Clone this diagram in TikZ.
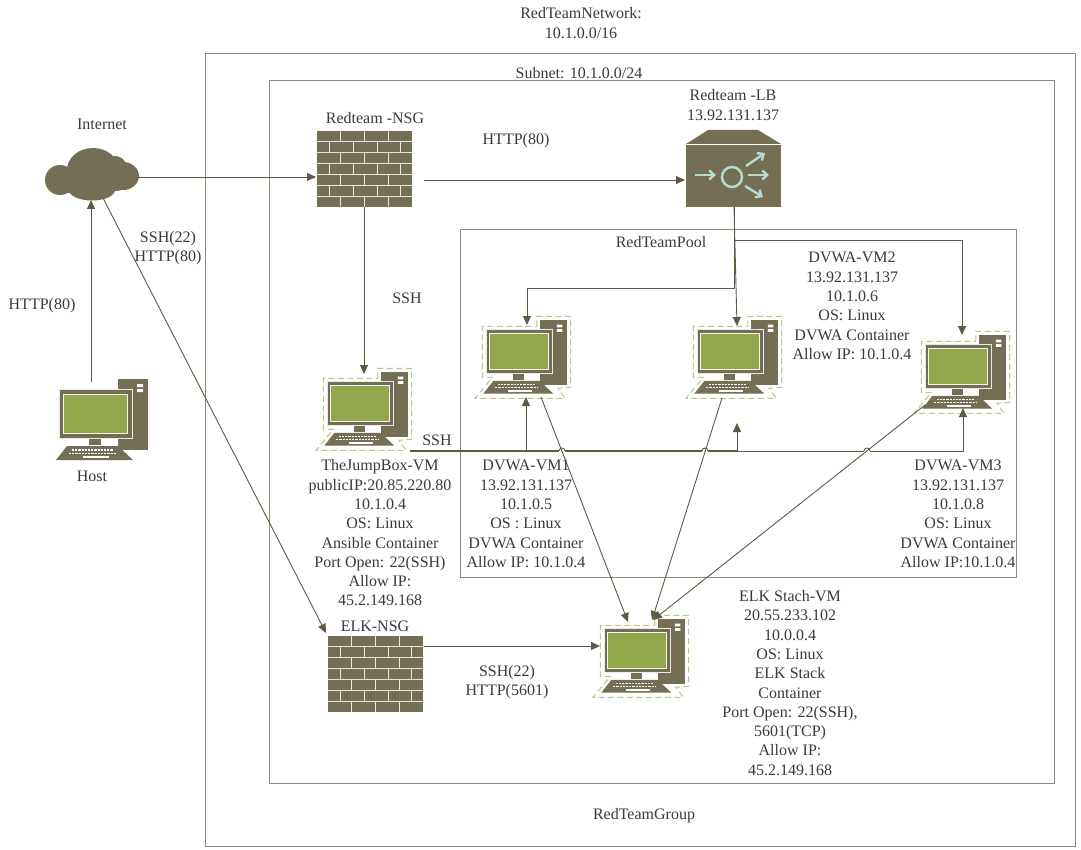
\documentclass[tikz,border=0pt]{standalone}
\usepackage{fontspec}
\setmainfont{Liberation Serif}
\usetikzlibrary{arrows.meta}
\definecolor{icon}{HTML}{746E55}
\definecolor{scr}{HTML}{93A84C}
\definecolor{dashg}{HTML}{B5C98A}
\definecolor{boxc}{HTML}{8E8A78}
\definecolor{linec}{HTML}{5F5A45}
\definecolor{txt}{HTML}{3A3A3A}
\definecolor{teal}{HTML}{B9DAD0}
\tikzset{
  lab/.style={font=\fontsize{16}{19.3}\selectfont,text=txt,align=center,inner sep=0pt},
  region/.style={draw=boxc,line width=0.9pt},
  conn/.style={draw=linec,line width=0.9pt,-{Triangle[length=9pt,width=8pt]}},
  plainconn/.style={draw=linec,line width=0.9pt},
  anchorbox/.style={inner sep=0pt,outer sep=0pt,anchor=north west},
  pics/computer/.style={code={
    \fill[icon] (59,0) rectangle (89,71);
    \fill[white] (78,5) rectangle (84,8) (78,10) rectangle (84,13);
    \fill[icon,draw=white!85!icon,line width=.7pt] (0,10) rectangle (73,59);
    \fill[scr,draw=white!90!scr,line width=.7pt] (4,15) rectangle (68,54);
    \fill[icon] (30,59.5) rectangle (42,66);
    \fill[icon] (8,67) -- (59,67) -- (74,81) -- (-3,81) -- cycle;
    \draw[white,line width=1.2pt,dash pattern=on 2.2pt off 1pt] (13,71) -- (54,71);
    \draw[white,line width=1.2pt,dash pattern=on 2.2pt off 1pt] (10,74.5) -- (57,74.5);
    \draw[white,line width=1.2pt] (24,78) -- (50,78);
  }},
  pics/dashoutline/.style={code={
    \draw[dashg,line width=1pt,dash pattern=on 6pt off 3.5pt]
      (56,7) -- (56,-4) -- (93,-4) -- (93,74) -- (79,75) -- (87,86) -- (-12,86) -- (7,63) -- (-4,63) -- (-4,7) -- cycle;
  }},
  pics/brick/.style={code={
    \fill[icon] (0,0) rectangle (95,76);
    \foreach \r in {1,...,6} \draw[white!85!icon,line width=1pt] (0,{\r*76/7}) -- (95,{\r*76/7});
    \foreach \r in {0,2,4,6} \foreach \c in {23.75,47.5,71.25}
      \draw[white!85!icon,line width=1pt] (\c,{\r*76/7}) -- (\c,{(\r+1)*76/7});
    \foreach \r in {1,3,5} \foreach \c in {12,36,60,83}
      \draw[white!85!icon,line width=1pt] (\c,{\r*76/7}) -- (\c,{(\r+1)*76/7});
  }}
}
\begin{document}
\begin{tikzpicture}[x=1pt,y=-1pt]
\useasboundingbox (0,0) rectangle (1081,850);
\fill[white] (0,0) rectangle (1081,850);
% regions
\draw[region] (205.5,53.5) rectangle (1075,846.5);
\draw[region] (269.5,80.5) rectangle (1054.5,783.5);
\draw[region] (460.5,229.5) rectangle (1016.5,577);
% cloud
\node[anchorbox,minimum width=94pt,minimum height=52pt] (cloud) at (45,148) {};
\fill[icon] (60,180) ellipse [x radius=15,y radius=15]
  (93,170) ellipse [x radius=26,y radius=22]
  (115,166) ellipse [x radius=11,y radius=10]
  (123,176) ellipse [x radius=16,y radius=14]
  (92,190) ellipse [x radius=23,y radius=10.5]
  (70,187) ellipse [x radius=15,y radius=6]
  (114,185) ellipse [x radius=14,y radius=6];
% firewalls
\node[anchorbox,minimum width=95pt,minimum height=76pt] (nsg) at (317,131) {};
\pic at (317,131) {brick};
\node[anchorbox,minimum width=95pt,minimum height=75pt] (elknsg) at (328,636) {};
\pic at (328,636) {brick};
% load balancer
\node[anchorbox,minimum width=95pt,minimum height=77pt] (lb) at (686,130) {};
\fill[icon] (686,144) -- (708,130) -- (758,130) -- (781,144) -- cycle;
\fill[icon] (686,145) rectangle (781,207);
\draw[teal,line width=2.4pt] (732,177) circle [radius=10];
\draw[teal,line width=2.4pt,-{Straight Barb[length=5pt,width=9pt]}] (695,175) -- (716,175);
\draw[teal,line width=2.4pt,-{Straight Barb[length=5pt,width=9pt]}] (746,166) -- (765,153);
\draw[teal,line width=2.4pt,-{Straight Barb[length=5pt,width=9pt]}] (748,175) -- (769,175);
\draw[teal,line width=2.4pt,-{Straight Barb[length=5pt,width=9pt]}] (745,186) -- (763,197);
% computers
\node[anchorbox,minimum width=89pt,minimum height=81pt] (host) at (59,379) {};
\pic at (59,379) {computer};
\foreach \n/\x/\y in {jump/327/372,vm1/486/320,vm2/697/320,vm3/925/335,elk/604/619}{
  \node[anchorbox,minimum width=82pt,minimum height=74pt] (\n) at (\x,\y) {};
  \pic[scale=.91] at (\x,\y) {dashoutline};
  \pic[scale=.91] at (\x,\y) {computer};
}
% ports
\coordinate (cloudR) at (138,177);
\coordinate (nsgL) at (316,177);
\coordinate (nsgR) at (424,180);
\coordinate (lbL) at (685,180);
\coordinate (nsgB) at (364,207);
\coordinate (jumpT) at (364,374);
\coordinate (hostT) at (91,382);
\coordinate (cloudB) at (91,200);
\coordinate (cloudD) at (103,198);
\coordinate (elknsgN) at (326,633);
\coordinate (lbB) at (734,207);
\coordinate (vm1T) at (527,325);
\coordinate (vm2T) at (737,326);
\coordinate (vm3T) at (962,335);
\coordinate (jumpR) at (410,451);
\coordinate (vm1B) at (526,397);
\coordinate (stub) at (737,423);
\coordinate (vm3B) at (963,408);
\coordinate (vm1D) at (541,397);
\coordinate (vm2D) at (722,398);
\coordinate (vm3D) at (925,405);
\coordinate (elkA) at (628,622);
\coordinate (elkB) at (652,620);
\coordinate (elkC) at (653,620);
\coordinate (elknsgR) at (424,646);
\coordinate (elkL) at (600,646);
% connectors
\draw[conn] (cloudR) -- (nsgL);
\draw[conn] (nsgR) -- (lbL);
\draw[conn] (nsgB) -- (jumpT);
\draw[conn] (hostT) -- (cloudB);
\draw[conn] (cloudD) -- (elknsgN);
\draw[conn] (lbB) -- (734,288) -- (527,288) -- (vm1T);
\draw[conn] (lbB) -- (vm2T);
\draw[conn] (lbB) -- (734,240) -- (962,240) -- (vm3T);
\draw[conn] (jumpR) -- (526,451) -- (vm1B);
\draw[conn] (jumpR) -- (737,451) -- (stub);
\draw[conn] (jumpR) -- (963,451) -- (vm3B);
\draw[plainconn,line width=1.6pt] (jumpR) -- (737,451);
\foreach \h in {562,705,867}{
  \draw[white,line width=2.2pt] (\h-3,451) -- (\h+3,451);
  \draw[plainconn] (\h-3,451) .. controls (\h-3,447) and (\h+3,447) .. (\h+3,451);
}
\draw[conn] (vm1D) -- (elkA);
\draw[conn] (vm2D) -- (elkB);
\draw[conn] (vm3D) -- (elkC);
\draw[conn] (elknsgR) -- (elkL);
% labels
\node[lab] (tNet) at (581,23) {RedTeamNetwork:\\10.1.0.0/16};
\node[lab] (tSub) at (579,73) {Subnet: 10.1.0.0/24};
\node[lab] (tInt) at (102,124) {Internet};
\node[lab] (tNsg) at (375,118) {Redteam -NSG};
\node[lab] (tLb) at (733,105) {Redteam -LB\\13.92.131.137};
\node[lab] (tH80) at (516,141) {HTTP(80)};
\node[lab] (tPool) at (661,242) {RedTeamPool};
\node[lab] (tS22) at (168,248) {SSH(22)\\HTTP(80)};
\node[lab] (tHH) at (42,306) {HTTP(80)};
\node[lab] (tSsh) at (407,298) {SSH};
\node[lab] (tHost) at (92,476) {Host};
\node[lab] (tSsh2) at (437,440) {SSH};
\node[lab] (tJump) at (380,533) {TheJumpBox-VM\\publicIP:20.85.220.80\\10.1.0.4\\OS: Linux\\Ansible Container\\Port Open: 22(SSH)\\Allow IP:\\45.2.149.168};
\node[lab] (tV1) at (526,514) {DVWA-VM1\\13.92.131.137\\10.1.0.5\\OS : Linux\\DVWA Container\\Allow IP: 10.1.0.4};
\node[lab] (tV2) at (852,306) {DVWA-VM2\\13.92.131.137\\10.1.0.6\\OS: Linux\\DVWA Container\\Allow IP: 10.1.0.4};
\node[lab] (tV3) at (958,514) {DVWA-VM3\\13.92.131.137\\10.1.0.8\\OS: Linux\\DVWA Container\\Allow IP:10.1.0.4};
\node[lab] (tEN) at (375,626) {ELK-NSG};
\node[lab] (tS56) at (507,682) {SSH(22)\\HTTP(5601)};
\node[lab] (tElk) at (790,683) {ELK Stach-VM\\20.55.233.102\\10.0.0.4\\OS: Linux\\ELK Stack\\Container\\Port Open: 22(SSH),\\5601(TCP)\\Allow IP:\\45.2.149.168};
\node[lab] (tGrp) at (644,816) {RedTeamGroup};
\end{tikzpicture}
\end{document}
